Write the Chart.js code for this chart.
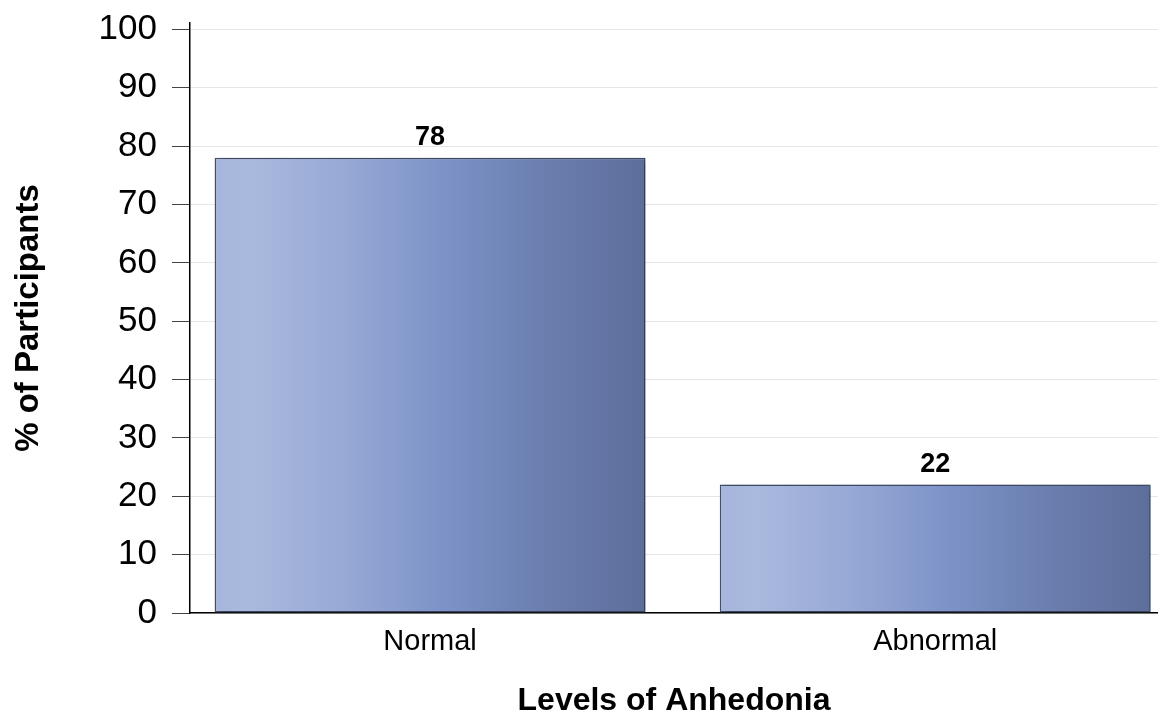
<!DOCTYPE html>
<html>
<head>
<meta charset="utf-8">
<script src="https://cdn.jsdelivr.net/npm/chart.js@4/dist/chart.umd.min.js"></script>
<style>
  html, body { margin: 0; padding: 0; background: #ffffff; overflow: hidden; }
  canvas { display: block; }
</style>
</head>
<body>
<canvas id="c" width="1158" height="713"></canvas>
<script>
// ---- data ----
const categories = ["Normal", "Abnormal"];
const percentValues = [78, 22];
const yTickValues = [0, 10, 20, 30, 40, 50, 60, 70, 80, 90, 100];
const xTitle = "Levels of Anhedonia";
const yTitle = "% of Participants";

const FONT = "'Liberation Sans', Arial, Helvetica, sans-serif";
const BAR_FRAC = 0.853;

function barGradient(c) {
  const chart = c.chart;
  const xs = chart.scales && chart.scales.x;
  if (!xs || c.type !== 'data' || !isFinite(xs.getPixelForValue(0))) return '#7f94c9';
  const cx = xs.getPixelForValue(c.dataIndex);
  const half = (xs.getPixelForValue(1) - xs.getPixelForValue(0)) * BAR_FRAC / 2;
  const g = chart.ctx.createLinearGradient(cx - half, 0, cx + half, 0);
  g.addColorStop(0.0, '#a6b5db');
  g.addColorStop(0.08, '#aab9de');
  g.addColorStop(0.3, '#97a9d5');
  g.addColorStop(0.52, '#7e93c9');
  g.addColorStop(0.75, '#6b7fb0');
  g.addColorStop(1.0, '#5e6e9b');
  return g;
}

const shadowAndLabels = {
  id: 'shadowAndLabels',
  beforeDatasetsDraw(chart) {
    const ctx = chart.ctx;
    ctx.save();
    ctx.shadowColor = 'rgba(0,0,0,0.35)';
    ctx.shadowBlur = 6;
    ctx.shadowOffsetX = 3;
    ctx.shadowOffsetY = 1;
  },
  afterDatasetsDraw(chart) {
    const ctx = chart.ctx;
    ctx.restore();
    const meta = chart.getDatasetMeta(0);
    ctx.save();
    ctx.font = "bold 27px " + FONT;
    ctx.fillStyle = '#000';
    ctx.textAlign = 'center';
    ctx.textBaseline = 'alphabetic';
    meta.data.forEach((el, i) => {
      ctx.fillText(String(percentValues[i]), el.x, el.y - 13);
    });
    ctx.restore();
  }
};

new Chart(document.getElementById('c'), {
  type: 'bar',
  data: {
    datasets: [{
      data: categories.map((c, i) => ({ x: i, y: percentValues[i] })),
      backgroundColor: barGradient,
      borderColor: '#46536f',
      borderWidth: 1.5,
      borderSkipped: false,
      categoryPercentage: 1,
      barPercentage: BAR_FRAC
    }]
  },
  options: {
    responsive: false,
    animation: false,
    devicePixelRatio: 1,
    layout: { padding: { top: 23, left: 0, right: 0, bottom: 0 } },
    plugins: { legend: { display: false }, tooltip: { enabled: false } },
    scales: {
      x: {
        type: 'linear',
        min: -0.4752,
        max: 1.441,
        offset: false,
        grid: { display: false, drawTicks: false, offset: false },
        border: { display: true, color: '#000', width: 1.5 },
        afterBuildTicks: (s) => { s.ticks = categories.map((c, i) => ({ value: i })); },
        afterFit: (s) => { s.height = 100; s.paddingLeft = 0; s.paddingRight = 0; },
        ticks: {
          autoSkip: false,
          maxRotation: 0,
          padding: 12,
          color: '#000',
          font: { family: FONT, size: 29 },
          callback: (v) => categories[v]
        },
        title: {
          display: true,
          text: xTitle,
          color: '#000',
          font: { family: FONT, size: 32, weight: 'bold', lineHeight: 1 },
          padding: { top: 0, bottom: -4 }
        }
      },
      y: {
        min: 0,
        max: 101.1,
        afterBuildTicks: (s) => { s.ticks = yTickValues.map(v => ({ value: v })); },
        afterFit: (s) => { s.width = 190; s.paddingTop = 0; s.paddingBottom = 0; },
        grid: { color: '#e6e6e6', lineWidth: 1, tickColor: '#444', tickLength: 18, drawTicks: true },
        border: { display: true, color: '#000', width: 1.5 },
        ticks: {
          padding: 15,
          color: '#000',
          font: { family: FONT, size: 35 }
        },
        title: {
          display: true,
          text: yTitle,
          color: '#000',
          font: { family: FONT, size: 33, weight: 'bold', lineHeight: 1 },
          padding: { top: 12, bottom: 0 }
        }
      }
    }
  },
  plugins: [shadowAndLabels]
});
</script>
</body>
</html>
